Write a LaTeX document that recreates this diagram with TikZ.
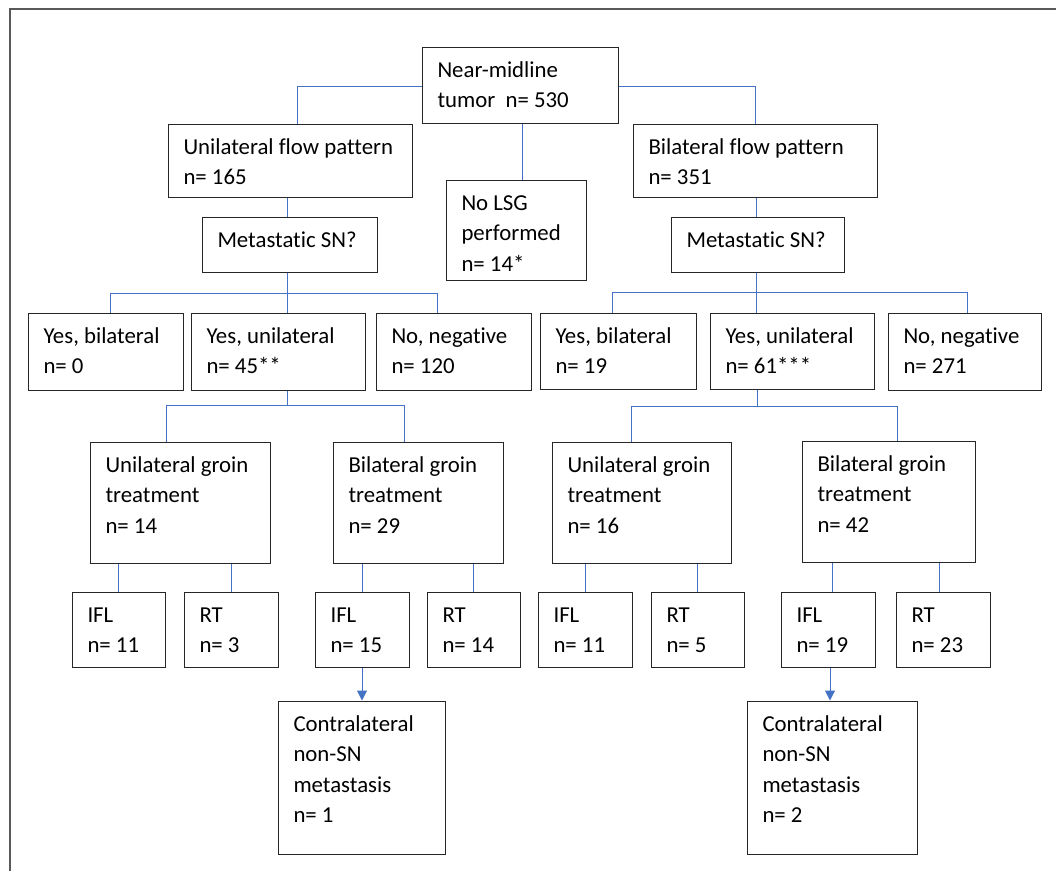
\documentclass[tikz,border=0pt]{standalone}
\usepackage{fontspec}
\setmainfont{Carlito}[RawFeature={-liga;-clig;-calt;-dlig}]
\usetikzlibrary{arrows.meta}
\definecolor{conncol}{HTML}{4472C4}
\definecolor{framecol}{HTML}{595959}
\newcommand{\celltext}[3]{\parbox[c][#2pt][t]{#1pt}{\vspace*{9pt}\raggedright\leftskip=15.5pt\strut #3}}
\begin{document}
\begin{tikzpicture}[x=1pt,y=-1pt,
  box/.style={draw=black!85,line width=1pt,inner sep=0pt,font=\fontsize{22.8}{30.5}\selectfont},
  conn/.style={draw=conncol,line width=1pt},
  arr/.style={conn,-{Triangle[length=10pt,width=10pt]}}]
\useasboundingbox (0,0) rectangle (1056,871);
\draw[framecol,line width=1.2pt] (10,871) -- (10,9) -- (1056,9);

\node[box] (top)   at (520,85)     {\celltext{196}{76}{Near-midline\\tumor\ \ n= 530}};
\node[box] (uflow) at (290,160.5)  {\celltext{244}{73}{Unilateral flow pattern\\n= 165}};
\node[box] (nolsg) at (516,230)    {\celltext{140}{100}{No LSG\\performed\\n= 14*}};
\node[box] (bflow) at (755,160.5)  {\celltext{244}{73}{Bilateral flow pattern\\n= 351}};
\node[box] (umeta) at (289.5,244.5){\celltext{175}{55}{Metastatic SN?}};
\node[box] (bmeta) at (757.5,244.5){\celltext{173}{55}{Metastatic SN?}};

\node[box] (lyb) at (105.5,351.5) {\celltext{155}{77}{Yes, bilateral\\n= 0}};
\node[box] (lyu) at (278,351.5)   {\celltext{174}{77}{Yes, unilateral\\n= 45**}};
\node[box] (lno) at (453.5,351.5) {\celltext{155}{77}{No, negative\\n= 120}};
\node[box] (ryb) at (618,351)     {\celltext{156}{76}{Yes, bilateral\\n= 19}};
\node[box] (ryu) at (792,351)     {\celltext{164}{76}{Yes, unilateral\\n= 61***}};
\node[box] (rno) at (964.5,351.5) {\celltext{153}{77}{No, negative\\n= 271}};

\node[box] (lug) at (180,502.5)   {\celltext{180}{121}{Unilateral groin\\treatment\\n= 14}};
\node[box] (lbg) at (418,502.5)   {\celltext{170}{121}{Bilateral groin\\treatment\\n= 29}};
\node[box] (rug) at (641.5,502.5) {\celltext{179}{121}{Unilateral groin\\treatment\\n= 16}};
\node[box] (rbg) at (888.5,501.5) {\celltext{173}{121}{Bilateral groin\\treatment\\n= 42}};

\node[box] (lifl1) at (118.5,629.5) {\celltext{93}{75}{IFL\\n= 11}};
\node[box] (lrt1)  at (231,629.5)   {\celltext{94}{75}{RT\\n= 3}};
\node[box] (lifl2) at (362,629.5)   {\celltext{94}{75}{IFL\\n= 15}};
\node[box] (lrt2)  at (473.5,629.5) {\celltext{93}{75}{RT\\n= 14}};
\node[box] (rifl1) at (585,629.5)   {\celltext{94}{75}{IFL\\n= 11}};
\node[box] (rrt1)  at (697.5,629.5) {\celltext{93}{75}{RT\\n= 5}};
\node[box] (rifl2) at (828,629.5)   {\celltext{94}{75}{IFL\\n= 19}};
\node[box] (rrt2)  at (943,629.5)   {\celltext{94}{75}{RT\\n= 23}};

\node[box] (lc) at (361.5,777.5) {\celltext{167}{153}{Contralateral\\non-SN\\metastasis\\n= 1}};
\node[box] (rc) at (832,777.5)   {\celltext{170}{153}{Contralateral\\non-SN\\metastasis\\n= 2}};

% top level
\draw[conn] ([yshift=-1pt]top.west) -| ([xshift=7pt]uflow.north);
\draw[conn] ([yshift=-1pt]top.east) -| (bflow.north);
\draw[conn] ([xshift=2pt]top.south) -- ([xshift=6pt]nolsg.north);
\draw[conn] ([xshift=-3pt]uflow.south) -- ([xshift=-2.5pt]umeta.north);
\draw[conn] ([xshift=1pt]bflow.south) -- ([xshift=-1.5pt]bmeta.north);

% SN buses
\coordinate (ubus) at ([xshift=-2.5pt,yshift=-21pt]umeta.south);
\draw[conn] ([xshift=-2.5pt]umeta.south) -- ([xshift=9pt]lyu.north);
\draw[conn] ([xshift=4.5pt]lyb.north) |- (ubus) -| ([xshift=-16.5pt]lno.north);
\coordinate (bbus) at ([xshift=-1.5pt,yshift=-20pt]bmeta.south);
\draw[conn] ([xshift=-1.5pt]bmeta.south) -- (ryu.north -| bbus);
\draw[conn] ([xshift=-6pt]ryb.north) |- (bbus) -| ([xshift=2.5pt]rno.north);

% groin buses
\coordinate (ugb) at ([xshift=9pt,yshift=-15pt]lyu.south);
\draw[conn] ([xshift=9pt]lyu.south) -- (ugb);
\draw[conn] ([xshift=-14pt]lug.north) |- (ugb) -| ([xshift=-14pt]lbg.north);
\coordinate (bgb) at ([xshift=-35pt,yshift=-17pt]ryu.south);
\draw[conn] ([xshift=-35pt]ryu.south) -- (bgb);
\draw[conn] ([xshift=-10.5pt]rug.north) |- (bgb) -| ([xshift=8.5pt]rbg.north);

% treatment leaves
\draw[conn] (lifl1.north) -- (lifl1.north |- lug.south);
\draw[conn] (lrt1.north) -- (lrt1.north |- lug.south);
\draw[conn] (lifl2.north) -- (lifl2.north |- lbg.south);
\draw[conn] (lrt2.north) -- (lrt2.north |- lbg.south);
\draw[conn] (rifl1.north) -- (rifl1.north |- rug.south);
\draw[conn] (rrt1.north) -- (rrt1.north |- rug.south);
\draw[conn] ([xshift=4pt]rifl2.north) -- ([xshift=4pt]rifl2.north |- rbg.south);
\draw[conn] ([xshift=-4pt]rrt2.north) -- ([xshift=-4pt]rrt2.north |- rbg.south);

% arrows
\draw[arr] (lifl2.south) -- (lifl2.south |- lc.north);
\draw[arr] ([xshift=2pt]rifl2.south) -- ([xshift=2pt]rifl2.south |- rc.north);
\end{tikzpicture}
\end{document}
